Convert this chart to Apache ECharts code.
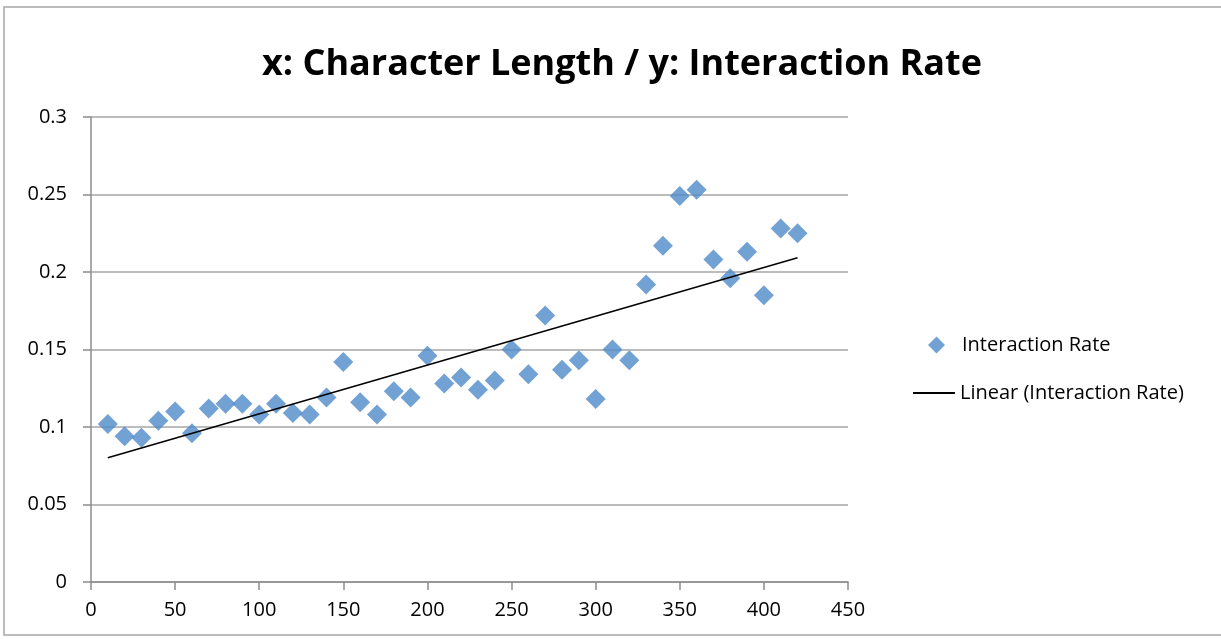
<!DOCTYPE html>
<html>
<head>
<meta charset="utf-8">
<script src="https://cdn.jsdelivr.net/npm/echarts@6/dist/echarts.min.js"></script>
<style>
html, body { margin: 0; padding: 0; background: #fff; }
#chart { width: 1221px; height: 639px; }
</style>
</head>
<body>
<div id="chart"></div>
<script>
// character length (x)
var charLength = [10, 20, 30, 40, 50, 60, 70, 80, 90, 100, 110, 120, 130, 140,
	150, 160, 170, 180, 190, 200, 210, 220, 230, 240, 250, 260, 270, 280,
	290, 300, 310, 320, 330, 340, 350, 360, 370, 380, 390, 400, 410, 420];
// interaction rate (y)
var interactionRate = [0.102, 0.094, 0.093, 0.104, 0.110, 0.096, 0.112, 0.115, 0.115, 0.108,
	0.115, 0.109, 0.108, 0.119, 0.142, 0.116, 0.108, 0.123, 0.119, 0.146,
	0.128, 0.132, 0.124, 0.130, 0.150, 0.134, 0.172, 0.137, 0.143, 0.118,
	0.150, 0.143, 0.192, 0.217, 0.249, 0.253, 0.208, 0.196, 0.213, 0.185,
	0.228, 0.225];
// linear trend line, end points
var trendX = [10, 420];
var trendY = [0.0802, 0.2092];

var fontFamily = '"Open Sans", sans-serif';

var points = [];
for (var i = 0; i < charLength.length; i++) {
	points.push([charLength[i], interactionRate[i]]);
}
var trend = [];
for (var j = 0; j < trendX.length; j++) {
	trend.push([trendX[j], trendY[j]]);
}

var myChart = echarts.init(document.getElementById('chart'));
var option = {
	backgroundColor : '#fff',
	animation : false,
	title : {
		text : 'x: Character Length / y: Interaction Rate',
		left : 617,
		textAlign : 'center',
		top : 42,
		textStyle : {
			fontFamily : fontFamily,
			fontWeight : 'bold',
			fontSize : 36,
			color : '#000'
		}
	},
	graphic : [ {
		type : 'rect',
		shape : { x : 4, y : 7, width : 1240, height : 628 },
		style : { fill : 'none', stroke : '#a6a6a6', lineWidth : 1.5 },
		silent : true
	} ],
	legend : [ {
		left : 923,
		top : 330,
		itemWidth : 17,
		itemHeight : 17,
		data : [ { name : 'Interaction Rate', icon : 'diamond' } ],
		textStyle : {
			fontFamily : fontFamily,
			fontSize : 20,
			color : '#000',
			padding : [ 0, 0, 0, 12 ]
		}
	}, {
		left : 908,
		top : 378,
		itemWidth : 42,
		itemHeight : 2,
		data : [ { name : 'Linear (Interaction Rate)', icon : 'rect' } ],
		textStyle : {
			fontFamily : fontFamily,
			fontSize : 20,
			color : '#000',
			padding : [ 0, 0, 0, 0 ]
		}
	} ],
	grid : {
		left : 91,
		right : 373,
		top : 117,
		bottom : 57
	},
	xAxis : {
		type : 'value',
		min : 0,
		max : 450,
		interval : 50,
		axisLine : { show : true, onZero : false, lineStyle : { color : '#8c8c8c', width : 1.5 } },
		axisTick : { show : true, inside : false, length : 8, lineStyle : { color : '#8c8c8c', width : 1.5 } },
		splitLine : { show : false },
		axisLabel : {
			margin : 18,
			fontFamily : fontFamily,
			fontSize : 20,
			color : '#000'
		}
	},
	yAxis : {
		type : 'value',
		min : 0,
		max : 0.3,
		interval : 0.05,
		axisLine : { show : true, lineStyle : { color : '#8c8c8c', width : 1.5 } },
		axisTick : { show : true, inside : false, length : 8, lineStyle : { color : '#8c8c8c', width : 1.5 } },
		splitLine : { show : true, lineStyle : { color : '#a6a6a6', width : 1.5 } },
		axisLabel : {
			margin : 24,
			fontFamily : fontFamily,
			fontSize : 20,
			color : '#000'
		}
	},
	series : [ {
		name : 'Interaction Rate',
		type : 'scatter',
		symbol : 'diamond',
		symbolSize : 20,
		itemStyle : { color : '#4f89c9' },
		data : points,
		z : 3
	}, {
		name : 'Linear (Interaction Rate)',
		type : 'line',
		symbol : 'none',
		lineStyle : { color : '#000', width : 1.5 },
		itemStyle : { color : '#000' },
		data : trend,
		z : 4
	} ]
};
myChart.setOption(option);
</script>
</body>
</html>
